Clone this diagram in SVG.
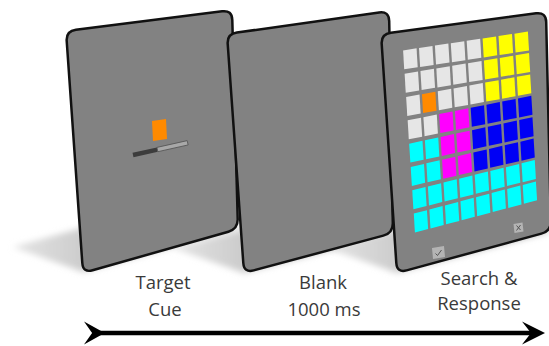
<svg xmlns="http://www.w3.org/2000/svg" width="549" height="346" viewBox="0 0 549 346">
  <style>
    .panel{fill:#828282;stroke:#111;stroke-width:2.5;stroke-linejoin:round}
    .shadow{fill:url(#shadowGrad);filter:url(#soft)}
    .lbl{font-family:"Open Sans","Liberation Sans",sans-serif;font-size:18.5px;fill:#3a3a3a;text-anchor:middle}
    .g{fill:#e6e6e6}.y{fill:#ffff00}.o{fill:#ff8a00}.m{fill:#ff00ff}.b{fill:#0000f5}.c{fill:#00ffff}
    .icon{fill:#b4b4b4}
    .mark{fill:none;stroke:#555;stroke-width:1}
  </style>
  <defs>
    <linearGradient id="shadowGrad" x1="1" y1="0" x2="0" y2="0">
      <stop offset="0" stop-color="#a6a6a6"/>
      <stop offset="0.55" stop-color="#c2c2c2"/>
      <stop offset="1" stop-color="#e4e4e4"/>
    </linearGradient>
    <filter id="soft" x="-20%" y="-20%" width="140%" height="140%">
      <feGaussianBlur stdDeviation="3"/>
    </filter>
    <rect id="cell" x="0" y="-5.4" width="10.8" height="10.8"/>
    <path id="head" d="M0,-11.5 L23,0 L0,11.5 L9,0 Z" fill="#000"/>
  </defs>

  <g id="shadows">
    <polygon class="shadow" points="83,272 238,228 168,204 13,247"/>
    <polygon class="shadow" points="244,273 393,233 323,209 173,248"/>
    <polygon class="shadow" points="397,273 551,231 481,208 327,248"/>
  </g>

  <g id="panel-target-cue">
    <path class="panel" d="M75.9,29.7 L222.1,11.3 Q232,10 232.3,20 L237.7,219 Q238,229 228.4,231.7 L92.6,270.3 Q83,273 82.3,263 L66.7,41 Q66,31 75.9,29.7 Z"/>
    <polygon points="152,121 166,119 167,139 153,141" fill="#ff8a00"/>
    <g transform="rotate(-12.6 133 155)">
      <rect x="133" y="152.8" width="25" height="4.4" fill="#3c3c3c"/>
      <rect x="158" y="152.8" width="31" height="4.4" fill="#a8a8a8" stroke="#555" stroke-width="0.8"/>
    </g>
  </g>

  <g id="panel-blank">
    <path class="panel" d="M236.9,32.6 L379.1,12.4 Q389,11 389.2,21 L392.8,223 Q393,233 383.3,235.6 L253.7,270.4 Q244,273 243.3,263 L227.7,44 Q227,34 236.9,32.6 Z"/>
  </g>

  <g id="panel-search-response">
    <path class="panel" d="M390.9,32.7 L536.1,13.3 Q546,12 546.2,22 L550.8,221 Q551,231 541.4,233.6 L406.6,270.4 Q397,273 396.3,263 L381.7,44 Q381,34 390.9,32.7 Z"/>
    <g id="grid">
      <g transform="matrix(1.2484 -0.1881 0.105 1.755 403.65 59.88)">
        <use href="#cell" x="0" class="g"/><use href="#cell" x="12.74" class="g"/><use href="#cell" x="25.48" class="g"/><use href="#cell" x="38.22" class="g"/><use href="#cell" x="50.96" class="g"/><use href="#cell" x="63.70" class="y"/><use href="#cell" x="76.44" class="y"/><use href="#cell" x="89.18" class="y"/>
      </g>
      <g transform="matrix(1.2446 -0.2072 0.105 1.755 405.18 83.20)">
        <use href="#cell" x="0" class="g"/><use href="#cell" x="12.74" class="g"/><use href="#cell" x="25.48" class="g"/><use href="#cell" x="38.22" class="g"/><use href="#cell" x="50.96" class="g"/><use href="#cell" x="63.70" class="y"/><use href="#cell" x="76.44" class="y"/><use href="#cell" x="89.18" class="y"/>
      </g>
      <g transform="matrix(1.2407 -0.2263 0.105 1.755 406.71 106.51)">
        <use href="#cell" x="0" class="g"/><use href="#cell" x="12.74" class="o"/><use href="#cell" x="25.48" class="g"/><use href="#cell" x="38.22" class="g"/><use href="#cell" x="50.96" class="g"/><use href="#cell" x="63.70" class="y"/><use href="#cell" x="76.44" class="y"/><use href="#cell" x="89.18" class="y"/>
      </g>
      <g transform="matrix(1.2369 -0.2454 0.105 1.755 408.23 129.82)">
        <use href="#cell" x="0" class="g"/><use href="#cell" x="12.74" class="g"/><use href="#cell" x="25.48" class="m"/><use href="#cell" x="38.22" class="m"/><use href="#cell" x="50.96" class="b"/><use href="#cell" x="63.70" class="b"/><use href="#cell" x="76.44" class="b"/><use href="#cell" x="89.18" class="b"/>
      </g>
      <g transform="matrix(1.2331 -0.2645 0.105 1.755 409.76 153.14)">
        <use href="#cell" x="0" class="c"/><use href="#cell" x="12.74" class="c"/><use href="#cell" x="25.48" class="m"/><use href="#cell" x="38.22" class="m"/><use href="#cell" x="50.96" class="b"/><use href="#cell" x="63.70" class="b"/><use href="#cell" x="76.44" class="b"/><use href="#cell" x="89.18" class="b"/>
      </g>
      <g transform="matrix(1.2293 -0.2837 0.105 1.755 411.29 176.45)">
        <use href="#cell" x="0" class="c"/><use href="#cell" x="12.74" class="c"/><use href="#cell" x="25.48" class="m"/><use href="#cell" x="38.22" class="m"/><use href="#cell" x="50.96" class="b"/><use href="#cell" x="63.70" class="b"/><use href="#cell" x="76.44" class="b"/><use href="#cell" x="89.18" class="b"/>
      </g>
      <g transform="matrix(1.2254 -0.3028 0.105 1.755 412.82 199.77)">
        <use href="#cell" x="0" class="c"/><use href="#cell" x="12.74" class="c"/><use href="#cell" x="25.48" class="c"/><use href="#cell" x="38.22" class="c"/><use href="#cell" x="50.96" class="c"/><use href="#cell" x="63.70" class="c"/><use href="#cell" x="76.44" class="c"/><use href="#cell" x="89.18" class="c"/>
      </g>
      <g transform="matrix(1.2216 -0.3219 0.105 1.755 414.35 223.08)">
        <use href="#cell" x="0" class="c"/><use href="#cell" x="12.74" class="c"/><use href="#cell" x="25.48" class="c"/><use href="#cell" x="38.22" class="c"/><use href="#cell" x="50.96" class="c"/><use href="#cell" x="63.70" class="c"/><use href="#cell" x="76.44" class="c"/><use href="#cell" x="89.18" class="c"/>
      </g>
    </g>
    <g id="accept-button">
      <polygon class="icon" points="432,248 444,246 445,257 433,259"/>
      <path class="mark" d="M435.5,253.5 L437.5,255.5 L441.5,250"/>
    </g>
    <g id="reject-button">
      <polygon class="icon" points="513.5,224 522.5,222.5 523.5,231.5 514.5,233"/>
      <path class="mark" d="M516.5,225.5 L520.5,230 M520.5,225 L516.5,230.5" stroke-width="0.8"/>
    </g>
  </g>

  <g id="labels">
    <text class="lbl" x="163" y="289">Target</text>
    <text class="lbl" x="165" y="315.5">Cue</text>
    <text class="lbl" x="323" y="289">Blank</text>
    <text class="lbl" x="324" y="315.5">1000 ms</text>
    <text class="lbl" x="479" y="284.5">Search &amp;</text>
    <text class="lbl" x="479" y="310">Response</text>
  </g>

  <g id="connectors">
    <line x1="92" y1="333" x2="532" y2="333" stroke="#000" stroke-width="4.5"/>
    <use href="#head" transform="translate(84 333) scale(0.9 1)"/>
    <use href="#head" transform="translate(522 333)"/>
  </g>
</svg>
